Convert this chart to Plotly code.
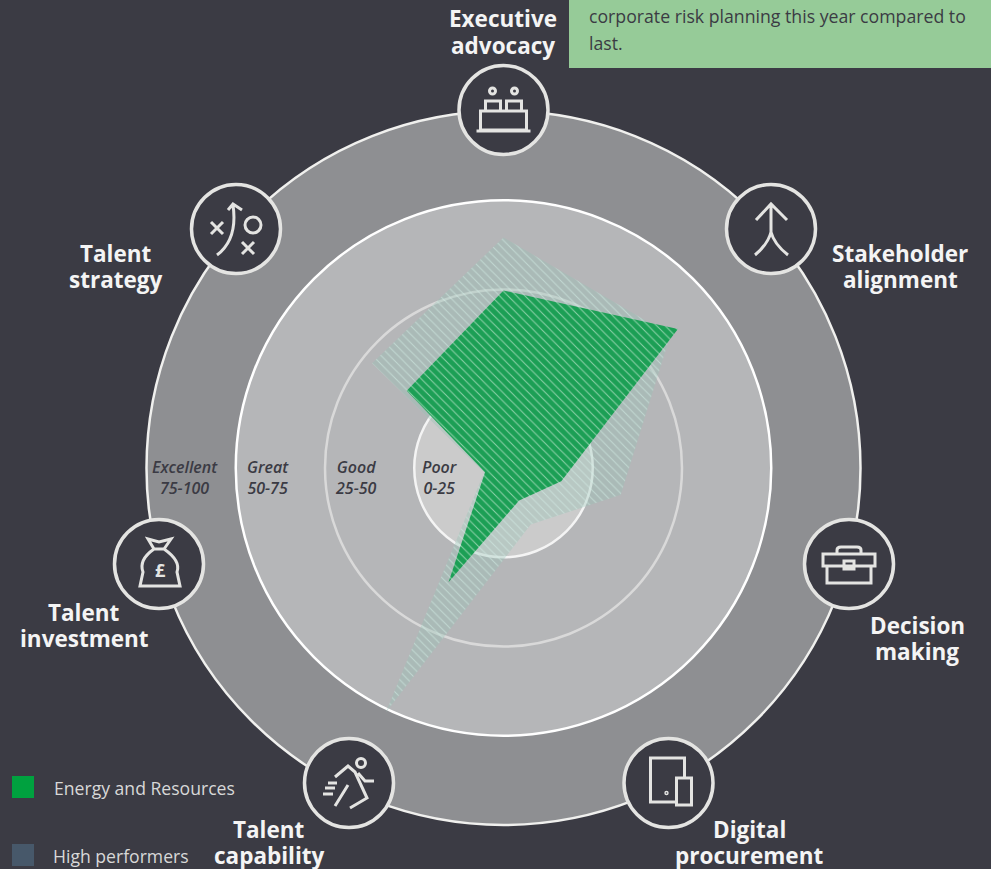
import plotly.graph_objects as go
import numpy as np

axes_names = ['Executive advocacy', 'Stakeholder alignment', 'Decision making', 'Digital procurement',
              'Talent capability', 'Talent investment', 'Talent strategy']
energy_resources = [49.7, 62.5, 16.6, 10.1, 35.5, 5.3, 34.7]
high_performers = [64.6, 59.8, 33.7, 17.6, 76, 5.6, 47.1]

ring_values = [100, 75, 50, 25]
ring_fills = ['#8e8f92', '#b5b6b8', '#b5b6b8', '#cbcbcb']
ring_lines = ['#f0f0ee', '#ffffff', '#d9d9d9', '#f4f4f4']

band_labels = ['Excellent<br>75-100', 'Great<br>50-75', 'Good<br>25-50', 'Poor<br>0-25']
legend_names = ['Energy and Resources', 'High performers']

bg = '#3b3b44'
icon_col = '#e4e4e2'
W, H = 991, 869
CX, CY = 503.5, 468
PX_PER_UNIT = 3.57  # 100 on the scale is 357px


def px(x, y):
    return {'x': x / W, 'y': 1 - y / H}


def polar_xy(values):
    angles = np.arange(len(values) + 1) * 2 * np.pi / len(values)
    r = np.array(list(values) + [values[0]])
    return r * np.sin(angles), r * np.cos(angles)


fig = go.Figure()

hx, hy = polar_xy(high_performers)
fig.add_trace(go.Scatter(x=hx, y=hy, mode='lines', fill='toself', line={'width': 0}, name=legend_names[1],
                         fillpattern={'shape': '\\', 'size': 6, 'solidity': 0.17,
                                      'bgcolor': 'rgba(150,195,180,0.36)', 'fgcolor': 'rgba(213,240,232,0.55)',
                                      'fillmode': 'replace'},
                         hoverinfo='skip'))
ex, ey = polar_xy(energy_resources)
fig.add_trace(go.Scatter(x=ex, y=ey, mode='lines', fill='toself', line={'width': 0}, name=legend_names[0],
                         fillpattern={'shape': '\\', 'size': 6, 'solidity': 0.17,
                                      'bgcolor': '#1c9f55', 'fgcolor': 'rgba(190,230,205,0.7)',
                                      'fillmode': 'replace'},
                         hoverinfo='skip'))

shapes = []
for v, f, c in zip(ring_values, ring_fills, ring_lines):
    shapes.append(dict(type='circle', xref='x', yref='y', x0=-v, x1=v, y0=-v, y1=v, fillcolor=f,
                       line={'color': c, 'width': 2.5}, layer='below'))


def icon(cx, cy, path, fill='rgba(0,0,0,0)', width=3):
    shapes.append(dict(type='path', xref='paper', yref='paper', xsizemode='pixel', ysizemode='pixel',
                       xanchor=cx / W, yanchor=1 - cy / H, path=path, fillcolor=fill,
                       line={'color': icon_col, 'width': width}, layer='above'))


def pts(*p):
    # polyline through offsets from the icon centre, y pointing down the page
    return 'M' + ' L'.join(f'{x},{-y}' for x, y in p)


def circ(x, y, r):
    return (f'M{x - r},{-y} C{x - r},{-y + r * .55} {x - r * .55},{-y + r} {x},{-y + r} '
            f'C{x + r * .55},{-y + r} {x + r},{-y + r * .55} {x + r},{-y} '
            f'C{x + r},{-y - r * .55} {x + r * .55},{-y - r} {x},{-y - r} '
            f'C{x - r * .55},{-y - r} {x - r},{-y - r * .55} {x - r},{-y} Z')


def rect(x0, y0, x1, y1):
    return pts((x0, y0), (x1, y0), (x1, y1), (x0, y1)) + ' Z'


def curve(x0, y0, cx, cy, x1, y1):
    return f'M{x0},{-y0} Q{cx},{-cy} {x1},{-y1}'


icon_centres = [(503.5, 110), (771, 229), (849, 564), (668.5, 783), (349, 783), (159, 564), (236, 229)]
for cx, cy in icon_centres:
    icon(cx, cy, circ(0, 0, 44.5), fill=bg, width=3.5)

# executive advocacy
cx, cy = icon_centres[0]
icon(cx, cy, ' '.join([circ(-11, -19, 3), circ(11, -19, 3), rect(-18, -9, -3, 1), rect(3, -9, 18, 1),
                       rect(-23, 1, 23, 20), pts((-27, 21), (27, 21))]))
# stakeholder alignment
cx, cy = icon_centres[1]
icon(cx, cy, ' '.join([pts((-15, -9), (0, -25), (16, -9)), pts((0, -25), (0, 3)),
                       curve(0, 3, -3, 15, -16, 26), curve(0, 3, 3, 15, 17, 26)]))
# decision making
cx, cy = icon_centres[2]
icon(cx, cy, ' '.join([rect(-26, -10, 26, 2), rect(-22, 2, 22, 19), rect(-5, -3, 5, 5),
                       'M-12,11 L-12,14 Q-12,17 -8,17 L8,17 Q12,17 12,14 L12,11']))
# digital procurement
cx, cy = icon_centres[3]
icon(cx, cy, ' '.join([rect(-18, -25, 16, 19), circ(-2, 10, 0.7)]))
icon(cx, cy, rect(8, -5, 23, 22), fill=bg)
# talent capability
cx, cy = icon_centres[4]
icon(cx, cy, ' '.join([circ(12, -20, 4.5), pts((-14, -6), (-1, -17), (6, -11), (18, 15), (1, 25)),
                       pts((9, -10), (16, -2), (25, -2)), pts((-1, 2), (-14, 23)),
                       pts((-21, 0), (-12, 0)), pts((-24, 5), (-14, 5)), pts((-26, 11), (-16, 11))]))
# talent investment
cx, cy = icon_centres[5]
icon(cx, cy, ' '.join([pts((-11, -25), (0, -22), (12, -25), (5, -15), (-5, -15)) + ' Z',
                       'M-5,15 C-15,8 -19,0 -16,-8 L-19,-22 L21,-22 L18,-8 C21,0 15,8 5,15']))
# talent strategy
cx, cy = icon_centres[6]
icon(cx, cy, ' '.join([pts((-25, -7), (-13, 5)), pts((-13, -7), (-25, 5)), curve(-19, 26, 2, 10, -3, -24),
                       pts((-8, -19), (-3, -25), (6, -19)), circ(17, -4, 8),
                       pts((6, 13), (18, 25)), pts((18, 13), (6, 25))]))

# box top right and legend swatches
shapes.append(dict(type='rect', xref='paper', yref='paper', x0=569 / W, x1=1, y0=1 - 68 / H, y1=1,
                   fillcolor='#96cb98', line={'width': 0}, layer='above'))
shapes.append(dict(type='rect', xref='paper', yref='paper', x0=12 / W, x1=34 / W, y0=1 - 798 / H, y1=1 - 776 / H,
                   fillcolor='#00a13f', line={'width': 0}, layer='above'))
shapes.append(dict(type='rect', xref='paper', yref='paper', x0=12 / W, x1=34 / W, y0=1 - 866 / H, y1=1 - 844 / H,
                   fillcolor='#47586a', line={'width': 0}, layer='above'))

font = 'Open Sans'
annotations = []


def add_text(text, x, y, size, color, anchor='center', weight=None, style=None):
    f = {'family': font, 'size': size, 'color': color}
    if weight:
        f['weight'] = weight
    if style:
        f['style'] = style
    annotations.append(dict(text=text, xref='paper', yref='paper', showarrow=False, xanchor=anchor, yanchor='middle',
                            font=f, align='center' if anchor == 'center' else 'left', **px(x, y)))


# two lines each, placed one by one because the line gap is tighter than the default
label_txt = [('Executive', 'advocacy'), ('Stakeholder', 'alignment'), ('Decision', 'making'),
             ('Digital', 'procurement'), ('Talent', 'capability'), ('Talent', 'investment'), ('Talent', 'strategy')]
label_pos = [(503, 19), (900, 253), (917, 625), (749, 829), (269, 829), (84, 612), (116, 253)]
for (a, b), (x, y) in zip(label_txt, label_pos):
    add_text(a, x, y, 22.5, '#f4f4f4', weight=700)
    add_text(b, x, y + 26.5, 22.5, '#f4f4f4', weight=700)

band_x = [185, 268, 356, 440]
for t, x in zip(band_labels, band_x):
    add_text(t, x, 477, 16, bg, weight=600, style='italic')

add_text('£', 160, 570, 18, icon_col, weight=700)
add_text(legend_names[0], 52, 788, 17.6, '#d8d8d8', anchor='left')
add_text(legend_names[1], 51, 856, 17.6, '#d8d8d8', anchor='left')
add_text('corporate risk planning this year compared to', 587, 16, 17.7, bg, anchor='left')
add_text('last.', 587, 43, 17.7, bg, anchor='left')

fig.update_layout(width=W, height=H, margin={'l': 0, 'r': 0, 't': 0, 'b': 0}, showlegend=False,
                  paper_bgcolor=bg, plot_bgcolor=bg, shapes=shapes, annotations=annotations,
                  xaxis={'range': [-CX / PX_PER_UNIT, (W - CX) / PX_PER_UNIT], 'visible': False, 'fixedrange': True},
                  yaxis={'range': [(CY - H) / PX_PER_UNIT, CY / PX_PER_UNIT], 'visible': False, 'fixedrange': True})

fig.write_html("out.html", config={'displayModeBar': False},
               post_script=f"document.body.style.margin='0';document.body.style.background='{bg}';")
